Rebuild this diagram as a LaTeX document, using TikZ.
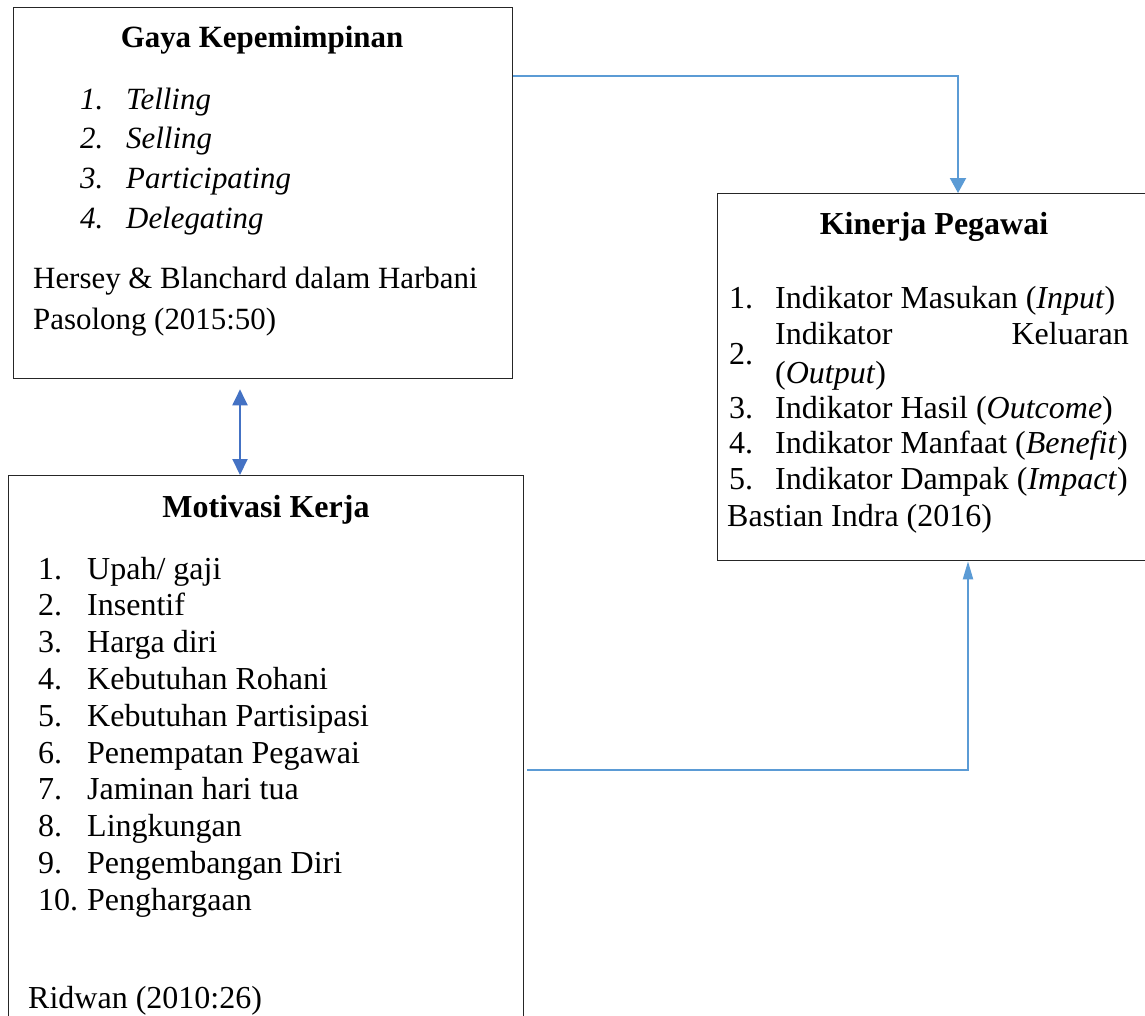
\documentclass[tikz,border=0pt]{standalone}
\usepackage{fontspec}
\setmainfont{Liberation Serif}
\usetikzlibrary{arrows.meta}
\definecolor{lblue}{RGB}{91,155,213}
\definecolor{dblue}{RGB}{68,114,196}
\tikzset{
  box/.style={draw=black!85, line width=1.3pt, inner sep=0pt, anchor=north west},
  txt/.style={anchor=base west, inner sep=0pt, font=\fontsize{32}{36}\selectfont},
  ttl/.style={anchor=base, inner sep=0pt, font=\fontsize{32}{36}\selectfont\bfseries},
  gtxt/.style={anchor=base west, inner sep=0pt, font=\fontsize{30.9}{36}\selectfont},
  gttl/.style={anchor=base, inner sep=0pt, font=\fontsize{30.9}{36}\selectfont\bfseries},
  conn/.style={draw=lblue, line width=2pt},
  dconn/.style={draw=dblue, line width=2pt}
}
\begin{document}
\begin{tikzpicture}[x=1pt,y=-1pt]
\useasboundingbox (0,0) rectangle (1145,1015);
\fill[white] (0,0) rectangle (1145,1015);
\begin{scope}
\clip (0,0) rectangle (1145,1015);
% boxes
\node[box, minimum width=499pt, minimum height=371pt] (gaya) at (13,7) {};
\node[box, minimum width=515pt, minimum height=600pt] (mot) at (8,475) {};
\node[box, minimum width=460pt, minimum height=367pt] (kin) at (717,193) {};

% Gaya Kepemimpinan
\node[gttl] (gt) at (262,47) {Gaya Kepemimpinan};
\node[gtxt] (g1n) at (80,109) {\itshape 1.};
\node[gtxt] (g1) at (126,109) {\itshape Telling};
\node[gtxt] (g2n) at (80,148) {\itshape 2.};
\node[gtxt] (g2) at (126,148) {\itshape Selling};
\node[gtxt] (g3n) at (80,188) {\itshape 3.};
\node[gtxt] (g3) at (126,188) {\itshape Participating};
\node[gtxt] (g4n) at (80,228) {\itshape 4.};
\node[gtxt] (g4) at (126,228) {\itshape Delegating};
\node[gtxt] (gs1) at (33,288) {Hersey \& Blanchard dalam Harbani};
\node[gtxt] (gs2) at (33,329) {Pasolong (2015:50)};

% Motivasi Kerja
\node[ttl] (mt) at (266,517) {Motivasi Kerja};
\foreach \n/\t [count=\i from 0] in {1./Upah\slash{} gaji, 2./Insentif, 3./Harga diri, 4./Kebutuhan Rohani, 5./Kebutuhan Partisipasi, 6./Penempatan Pegawai, 7./Jaminan hari tua, 8./Lingkungan, 9./Pengembangan Diri, 10./Penghargaan}{
  \node[txt] (mn\i) at (38,579+36.8*\i) {\n};
  \node[txt] (m\i) at (87,579+36.8*\i) {\t};
}
\node[txt] (ms) at (28,1008) {Ridwan (2010:26)};

% Kinerja Pegawai
\node[ttl] (kt) at (934,234) {Kinerja Pegawai};
\node[txt] (k1n) at (729,308) {1.};
\node[txt] (k1) at (775,308) {Indikator Masukan (\textit{Input})};
\node[txt] (k2n) at (729,364) {2.};
\node[txt] (k2a) at (775,344) {Indikator};
\node[txt, anchor=base east] (k2b) at (1129,344) {Keluaran};
\node[txt] (k2c) at (775,383) {(\textit{Output})};
\node[txt] (k3n) at (729,418) {3.};
\node[txt] (k3) at (775,418) {Indikator Hasil (\textit{Outcome})};
\node[txt] (k4n) at (729,453) {4.};
\node[txt] (k4) at (775,453) {Indikator Manfaat (\textit{Benefit})};
\node[txt] (k5n) at (729,489) {5.};
\node[txt] (k5) at (775,489) {Indikator Dampak (\textit{Impact})};
\node[txt] (ks) at (727,526) {Bastian Indra (2016)};

% connectors
\coordinate (c1) at (958,75.5);
\draw[conn, -{Triangle[width=16pt,length=15pt]}] (gaya.east |- c1) -| (kin.north -| c1);

\coordinate (m0) at (527,770);
\coordinate (c2) at (968,770);
\draw[conn, -{Triangle[width=10pt,length=18pt]}] (m0) -| (kin.south -| c2);

\coordinate (d) at (240,400);
\draw[dconn, {Triangle[width=15pt,length=16pt]}-{Triangle[width=15pt,length=16pt]}, shorten <=10pt] (gaya.south -| d) -- (mot.north -| d);
\end{scope}
\end{tikzpicture}
\end{document}
